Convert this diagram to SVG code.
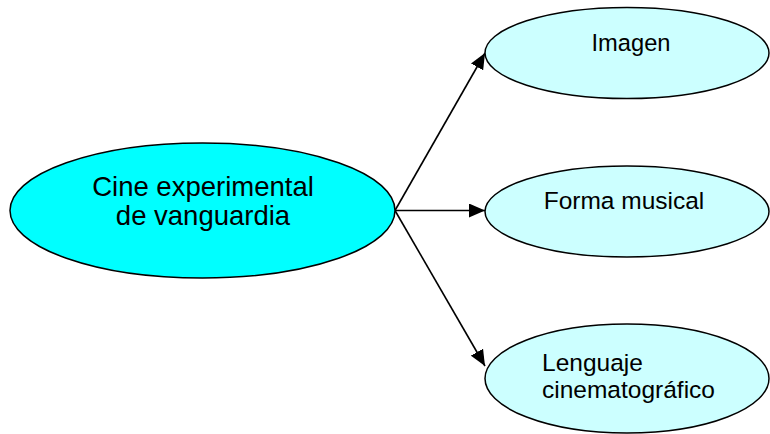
<svg xmlns="http://www.w3.org/2000/svg" width="770" height="434" viewBox="0 0 770 434">
<defs>
<marker id="arrow" markerUnits="userSpaceOnUse" markerWidth="16" markerHeight="14" refX="16" refY="7" orient="auto">
<path d="M0,0 L16,7 L0,14 z" fill="#000"/>
</marker>
<style>
.main{fill:#00FFFF;stroke:#000;stroke-width:1.5}
.sub{fill:#CCFFFF;stroke:#000;stroke-width:1.5}
.t{font-family:"Liberation Sans",Arial,sans-serif;fill:#000}
.edge{stroke:#000;stroke-width:1.6;fill:none;marker-end:url(#arrow)}
</style>
</defs>
<rect width="770" height="434" fill="#fff"/>
<g id="connectors">
<line class="edge" x1="395" y1="210.5" x2="485" y2="53"/>
<line class="edge" x1="395" y1="210.5" x2="485" y2="210.5"/>
<line class="edge" x1="395" y1="210.5" x2="485" y2="366"/>
</g>
<g id="node-cine">
<ellipse class="main" cx="202.5" cy="210.5" rx="192.5" ry="67.5"/>
<text class="t" x="203" y="196" font-size="27.5" text-anchor="middle">Cine experimental</text>
<text class="t" x="203" y="225" font-size="27.5" text-anchor="middle">de vanguardia</text>
</g>
<g id="node-imagen">
<ellipse class="sub" cx="627" cy="53" rx="142" ry="45.5"/>
<text class="t" x="631" y="51" font-size="23.7" text-anchor="middle">Imagen</text>
</g>
<g id="node-forma">
<ellipse class="sub" cx="627" cy="211.5" rx="142" ry="45.5"/>
<text class="t" x="624" y="209" font-size="24.5" text-anchor="middle">Forma musical</text>
</g>
<g id="node-lenguaje">
<ellipse class="sub" cx="627" cy="378.5" rx="142" ry="54.5"/>
<text class="t" x="542" y="371" font-size="24.5">Lenguaje</text>
<text class="t" x="542" y="398" font-size="24.5">cinematográfico</text>
</g>
</svg>
